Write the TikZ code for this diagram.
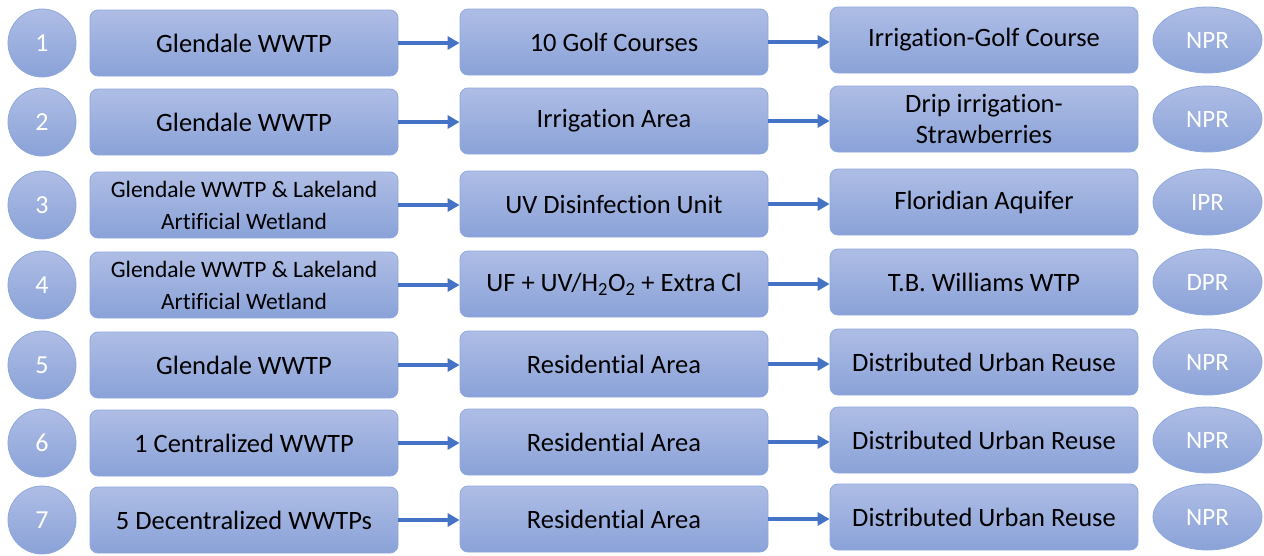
\documentclass[tikz,border=0pt]{standalone}
\usepackage{fontspec}
\setmainfont{Carlito}[Ligatures=CommonOff]
\usetikzlibrary{arrows.meta,shapes.geometric}
\definecolor{boxtop}{RGB}{174,189,229}
\definecolor{boxbot}{RGB}{138,162,216}
\definecolor{boxline}{RGB}{143,168,221}
\definecolor{arr}{RGB}{68,114,196}
\begin{document}
\begin{tikzpicture}[x=1pt,y=-1pt,
  shade1/.style={top color=boxtop, bottom color=boxbot, draw=boxline, line width=0.8pt},
  box/.style={shade1, rectangle, rounded corners=8pt, minimum width=308pt, minimum height=66pt, align=center, font=\fontsize{26.5}{31}\selectfont, text=black, inner sep=2pt},
  small/.style={font=\fontsize{23.5}{32}\selectfont},
  num/.style={shade1, circle, minimum size=68pt, inner sep=0pt, text=white, font=\fontsize{26}{30}\selectfont},
  tag/.style={shade1, ellipse, minimum width=109pt, minimum height=66pt, inner sep=0pt, text=white, font=\fontsize{25}{30}\selectfont},
  arrow/.style={draw=arr, line width=3.6pt, -{Triangle[length=12pt,width=13pt]}}]
\useasboundingbox (0,0) rectangle (1264,555);
\foreach \n/\y/\a/\b/\c/\t/\s in {
  1/43/{Glendale WWTP}/{10 Golf Courses}/{Irrigation-Golf Course}/NPR/{},
  2/122/{Glendale WWTP}/{Irrigation Area}/{Drip irrigation-\\Strawberries}/NPR/{},
  3/205/{Glendale WWTP \& Lakeland\\Artificial Wetland}/{UV Disinfection Unit}/{Floridian Aquifer}/IPR/small,
  4/285/{Glendale WWTP \& Lakeland\\Artificial Wetland}/{UF + UV/H\textsubscript{2}O\textsubscript{2} + Extra Cl}/{T.B. Williams WTP}/DPR/small,
  5/365/{Glendale WWTP}/{Residential Area}/{Distributed Urban Reuse}/NPR/{},
  6/443/{1 Centralized WWTP}/{Residential Area}/{Distributed Urban Reuse}/NPR/{},
  7/520/{5 Decentralized WWTPs}/{Residential Area}/{Distributed Urban Reuse}/NPR/{}} {
  \node[num] (c\n) at (42,\y) {\n};
  \node[box,\s] (l\n) at (244,\y) {\a};
  \node[box] (m\n) at (614,\y-1) {\b};
  \node[box] (r\n) at (984,\y-3) {\c};
  \node[tag] (e\n) at (1207.5,\y-3) {\t};
  \draw[arrow] (l\n.east) -- (l\n.east -| m\n.west);
  \draw[arrow] (m\n.east) -- (m\n.east -| r\n.west);
}
\end{tikzpicture}
\end{document}
